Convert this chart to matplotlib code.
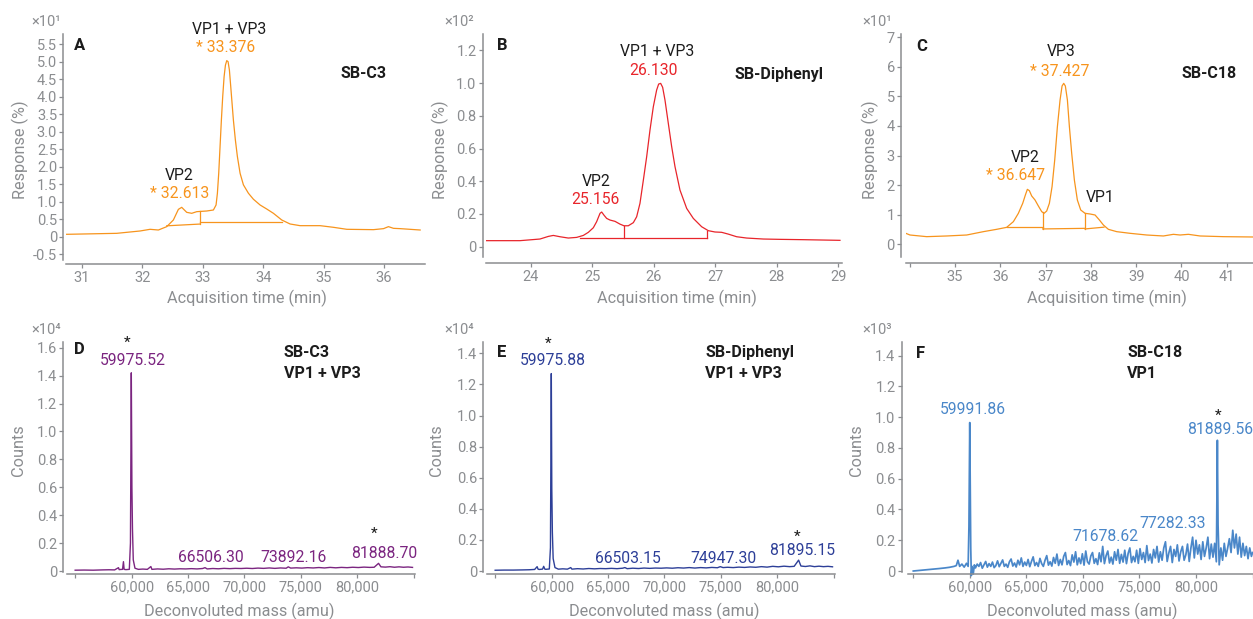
import matplotlib
matplotlib.use("Agg")
import matplotlib.pyplot as plt

W, H = 1253, 619
GREY = "#8b8d90"
INK = "#1c1c1c"
ORANGE = "#f7941d"
RED = "#e8252b"
PURPLE = "#7b2580"
NAVY = "#2d3f98"
SKY = "#4a87c9"

plt.rcParams['font.family'] = ['Roboto', 'DejaVu Sans']

# ---- chromatograms (response, x10^n %) ----
a_time = [30.746, 31.575, 31.962, 32.127, 32.265, 32.403, 32.513, 32.596, 32.651, 32.734,
          32.817, 32.900, 33.065, 33.176, 33.220, 33.242, 33.264, 33.286, 33.308, 33.330,
          33.353, 33.375, 33.397, 33.419, 33.441, 33.463, 33.485, 33.507, 33.540, 33.573,
          33.618, 33.673, 33.756, 33.838, 33.949, 34.059, 34.170, 34.308, 34.446, 34.611,
          34.943, 35.164, 35.385, 35.827, 35.993, 36.075, 36.158, 36.269, 36.600]
a_resp = [0.067, 0.095, 0.162, 0.210, 0.190, 0.286, 0.476, 0.780, 0.838, 0.695,
          0.667, 0.714, 0.733, 0.762, 0.905, 1.238, 1.810, 2.570, 3.330, 4.000,
          4.570, 4.900, 5.030, 5.000, 4.760, 4.290, 3.810, 3.330, 2.760, 2.290,
          1.810, 1.480, 1.240, 1.070, 0.905, 0.790, 0.667, 0.476, 0.362, 0.314,
          0.314, 0.267, 0.210, 0.200, 0.229, 0.286, 0.238, 0.229, 0.190]
a_base_t = [[32.403, 32.955], [32.955, 32.955], [32.955, 34.308]]
a_base_r = [[0.31, 0.36], [0.36, 0.72], [0.42, 0.42]]

b_time = [23.252, 23.821, 24.146, 24.282, 24.363, 24.472, 24.607, 24.743, 24.851, 24.933,
          25.014, 25.068, 25.123, 25.150, 25.187, 25.231, 25.285, 25.367, 25.448, 25.513,
          25.583, 25.665, 25.719, 25.773, 25.828, 25.882, 25.936, 25.990, 26.044, 26.077,
          26.110, 26.142, 26.180, 26.234, 26.289, 26.343, 26.424, 26.533, 26.641, 26.777,
          26.885, 26.993, 27.102, 27.210, 27.346, 27.509, 27.780, 28.051, 28.430, 29.027]
b_resp = [0.037, 0.037, 0.047, 0.063, 0.069, 0.061, 0.053, 0.057, 0.069, 0.088,
          0.116, 0.153, 0.204, 0.212, 0.193, 0.173, 0.163, 0.155, 0.138, 0.128,
          0.128, 0.147, 0.183, 0.265, 0.407, 0.550, 0.713, 0.855, 0.957, 0.994,
          0.998, 0.974, 0.896, 0.754, 0.611, 0.489, 0.346, 0.234, 0.173, 0.122,
          0.098, 0.090, 0.088, 0.077, 0.061, 0.053, 0.047, 0.045, 0.043, 0.039]
b_base_t = [[24.80, 26.86], [25.52, 25.52], [26.86, 26.86]]
b_base_r = [[0.055, 0.055], [0.055, 0.128], [0.055, 0.098]]

c_time = [33.859, 34.006, 34.374, 34.816, 35.258, 35.626, 35.920, 36.141, 36.289, 36.399,
          36.495, 36.554, 36.598, 36.642, 36.694, 36.767, 36.841, 36.915, 36.966, 37.025,
          37.084, 37.143, 37.202, 37.261, 37.320, 37.364, 37.401, 37.437, 37.482, 37.526,
          37.577, 37.636, 37.702, 37.776, 37.872, 37.982, 38.093, 38.189, 38.277, 38.387,
          38.571, 38.866, 39.234, 39.602, 39.823, 39.970, 40.155, 40.412, 40.928, 41.591]
c_resp = [0.405, 0.315, 0.259, 0.282, 0.315, 0.428, 0.507, 0.574, 0.766, 1.047,
          1.385, 1.667, 1.858, 1.813, 1.633, 1.498, 1.295, 1.104, 1.047, 1.126,
          1.385, 1.948, 2.849, 3.975, 4.876, 5.349, 5.439, 5.349, 4.876, 3.975,
          3.074, 2.173, 1.498, 1.160, 1.047, 1.025, 0.991, 0.822, 0.653, 0.507,
          0.428, 0.372, 0.315, 0.282, 0.338, 0.315, 0.338, 0.282, 0.259, 0.248]
c_base_t = [[36.142, 36.937], [36.937, 36.937], [36.937, 37.871], [37.871, 37.871], [37.871, 38.29]]
c_base_r = [[0.59, 0.59], [0.52, 1.08], [0.52, 0.54], [0.52, 1.06], [0.52, 0.58]]

# ---- deconvoluted spectra (counts, x10^n) ----
d_mass = [55000, 55800, 56600, 57400, 58000, 58500, 58840, 58900, 59000, 59200,
          59280, 59340, 59500, 59800, 59900, 59976, 60030, 60080, 60150, 60300,
          60600, 61000, 61400, 61710, 61800, 62300, 62800, 63300, 63800, 64300,
          64800, 65300, 65800, 66300, 66510, 66700, 67200, 67700, 68200, 68700,
          69200, 69700, 70200, 70700, 71200, 71700, 72200, 72700, 73200, 73700,
          73890, 74100, 74600, 75100, 75600, 76100, 76600, 77100, 77600, 78100,
          78600, 79100, 79600, 80100, 80600, 81100, 81500, 81889, 82100, 82500,
          82900, 83300, 83700, 84100, 84500, 84900]
d_counts = [0.006, 0.007, 0.006, 0.008, 0.009, 0.008, 0.024, 0.010, 0.011, 0.012,
            0.067, 0.012, 0.010, 0.012, 0.200, 1.420, 0.600, 0.300, 0.080, 0.020,
            0.012, 0.014, 0.012, 0.032, 0.012, 0.015, 0.013, 0.016, 0.014, 0.016,
            0.015, 0.017, 0.015, 0.018, 0.024, 0.015, 0.018, 0.016, 0.019, 0.017,
            0.019, 0.018, 0.020, 0.018, 0.021, 0.019, 0.022, 0.019, 0.022, 0.020,
            0.030, 0.021, 0.023, 0.021, 0.024, 0.022, 0.025, 0.022, 0.026, 0.023,
            0.026, 0.024, 0.027, 0.025, 0.028, 0.026, 0.027, 0.055, 0.030, 0.028,
            0.031, 0.027, 0.030, 0.027, 0.029, 0.026]

e_mass = [55000, 55800, 56600, 57400, 58000, 58500, 58720, 58800, 58900, 59200,
          59300, 59400, 59500, 59800, 59900, 59976, 60020, 60070, 60140, 60300,
          60600, 61000, 61400, 61700, 61800, 62300, 62800, 63300, 63800, 64300,
          64800, 65300, 65800, 66300, 66500, 66700, 67200, 67700, 68200, 68700,
          69200, 69700, 70200, 70700, 71200, 71700, 72200, 72700, 73200, 73700,
          74200, 74700, 74950, 75200, 75600, 76100, 76600, 77100, 77600, 78100,
          78600, 79100, 79600, 80100, 80600, 81100, 81500, 81895, 82100, 82500,
          82900, 83300, 83700, 84100, 84500, 84900]
e_counts = [0.005, 0.006, 0.006, 0.007, 0.008, 0.010, 0.028, 0.012, 0.010, 0.012,
            0.030, 0.012, 0.011, 0.013, 0.150, 1.270, 0.530, 0.250, 0.080, 0.022,
            0.012, 0.014, 0.012, 0.022, 0.012, 0.015, 0.013, 0.016, 0.014, 0.016,
            0.015, 0.017, 0.015, 0.018, 0.022, 0.015, 0.018, 0.016, 0.019, 0.017,
            0.019, 0.018, 0.020, 0.018, 0.021, 0.019, 0.022, 0.019, 0.022, 0.020,
            0.023, 0.021, 0.028, 0.022, 0.024, 0.022, 0.025, 0.023, 0.026, 0.024,
            0.028, 0.025, 0.030, 0.027, 0.031, 0.028, 0.030, 0.070, 0.032, 0.029,
            0.033, 0.028, 0.031, 0.028, 0.030, 0.027]

f_mass = [55000, 55600, 56200, 56800, 57300, 57800, 58200, 58600, 58800, 58950,
          59100, 59300, 59500, 59700, 59850, 59920, 59992, 60040, 60080, 60130,
          60200, 60300, 60400,
          60500, 60650, 60800, 60950, 61100, 61250, 61400, 61550, 61700, 61850,
          62000, 62150, 62300, 62450, 62600, 62750, 62900, 63050, 63200, 63350,
          63500, 63650, 63800, 63950, 64100, 64250, 64400, 64550, 64700, 64850,
          65000, 65150, 65300, 65450, 65600, 65750, 65900, 66050, 66200, 66350,
          66500, 66650, 66800, 66950, 67100, 67250, 67400, 67550, 67700, 67850,
          68000, 68150, 68300, 68450, 68600, 68750, 68900, 69050, 69200, 69350,
          69500, 69650, 69800, 69950, 70100, 70250, 70400, 70550, 70700, 70850,
          71000, 71150, 71300, 71450, 71600, 71750, 71900, 72050, 72200, 72350,
          72500, 72650, 72800, 72950, 73100, 73250, 73400, 73550, 73700, 73850,
          74000, 74150, 74300, 74450, 74600, 74750, 74900, 75050, 75200, 75350,
          75500, 75650, 75800, 75950, 76100, 76250, 76400, 76550, 76700, 76850,
          77000, 77150, 77300, 77450, 77600, 77750, 77900, 78050, 78200, 78350,
          78500, 78650, 78800, 78950, 79100, 79250, 79400, 79550, 79700, 79850,
          80000, 80150, 80300, 80450, 80600, 80750, 80900, 81050, 81200, 81350,
          81500, 81650, 81800, 81890, 81950, 82050, 82200, 82350, 82500, 82650,
          82800, 82950, 83100, 83250, 83400, 83550, 83700, 83850, 84000, 84150,
          84300, 84450, 84600, 84750, 84900, 85000]
f_counts = [0.000, 0.004, 0.008, 0.012, 0.016, 0.020, 0.024, 0.030, 0.035, 0.070,
            0.030, 0.045, 0.025, 0.050, 0.030, 0.290, 0.965, 0.480, 0.150, -0.030,
            0.030, -0.020, 0.040,
            0.020, 0.045, 0.030, 0.055, 0.018, 0.040, 0.062, 0.025, 0.048, 0.030,
            0.058, 0.022, 0.035, 0.066, 0.028, 0.050, 0.072, 0.030, 0.045, 0.024,
            0.060, 0.078, 0.032, 0.052, 0.026, 0.070, 0.040, 0.085, 0.030, 0.058,
            0.036, 0.075, 0.028, 0.062, 0.092, 0.035, 0.055, 0.030, 0.082, 0.048,
            0.030, 0.070, 0.100, 0.038, 0.060, 0.032, 0.088, 0.050, 0.110, 0.036,
            0.075, 0.040, 0.095, 0.120, 0.042, 0.068, 0.035, 0.105, 0.058, 0.125,
            0.040, 0.085, 0.048, 0.112, 0.038, 0.130, 0.060, 0.045, 0.098, 0.120,
            0.050, 0.080, 0.042, 0.118, 0.060, 0.160, 0.048, 0.100, 0.130, 0.052,
            0.090, 0.045, 0.125, 0.070, 0.140, 0.050, 0.108, 0.058, 0.135, 0.048,
            0.115, 0.150, 0.055, 0.095, 0.060, 0.135, 0.050, 0.145, 0.075, 0.120,
            0.055, 0.165, 0.068, 0.110, 0.052, 0.140, 0.085, 0.160, 0.058, 0.125,
            0.070, 0.150, 0.190, 0.062, 0.118, 0.160, 0.055, 0.140, 0.095, 0.170,
            0.065, 0.125, 0.160, 0.070, 0.105, 0.175, 0.062, 0.150, 0.220, 0.085,
            0.200, 0.110, 0.170, 0.075, 0.190, 0.095, 0.150, 0.220, 0.080, 0.175,
            0.090, 0.180, 0.060, 0.850, 0.300, 0.040, 0.150, 0.070, 0.180, 0.095,
            0.150, 0.210, 0.120, 0.265, 0.150, 0.240, 0.110, 0.220, 0.090, 0.180,
            0.100, 0.160, 0.080, 0.150, 0.095, 0.120]

mass_ticks = [55000, 60000, 65000, 70000, 75000, 80000, 85000]
mass_labels = ["", "60,000", "65,000", "70,000", "75,000", "80,000", ""]

fig = plt.figure(figsize=(W / 100, H / 100), dpi=100)


def px_axes(l, t, r, b):
    return fig.add_axes([l / W, 1 - b / H, (r - l) / W, (b - t) / H])


def put(x, y, s, color=INK, size=11.3, weight="normal", ha="center", rot=0):
    fig.text(x / W, 1 - y / H, s, color=color, fontsize=size, fontweight=weight,
             ha=ha, va="center", rotation=rot)


def fmt(v):
    return "0" if abs(v) < 1e-9 else "%.1f" % v


def style(ax, xlim, ylim, xt, xl, yt, yl, left_out, bottom_out):
    ax.set_xlim(*xlim)
    ax.set_ylim(*ylim)
    ax.set_xticks(xt)
    ax.set_xticklabels(xl)
    ax.set_yticks(yt)
    ax.set_yticklabels(yl)
    for s in ["top", "right"]:
        ax.spines[s].set_visible(False)
    for s in ["left", "bottom"]:
        ax.spines[s].set_color(GREY)
        ax.spines[s].set_linewidth(1.1)
    ax.spines["left"].set_position(("outward", left_out * 0.72))
    ax.spines["bottom"].set_position(("outward", bottom_out * 0.72))
    ax.tick_params(colors=GREY, labelcolor=GREY, labelsize=10.5, length=3, width=0.9, pad=1.5)
    ax.patch.set_alpha(0)


# ---- A ----
ax = px_axes(65.7, 34.3, 425, 260)
ax.plot(a_time, a_resp, color=ORANGE, lw=0.9)
for t, r in zip(a_base_t, a_base_r):
    ax.plot(t, r, color=ORANGE, lw=0.9)
ay = [-0.5, 0, 0.5, 1, 1.5, 2, 2.5, 3, 3.5, 4, 4.5, 5, 5.5]
style(ax, (30.73, 36.68), (-0.667, 5.782), [31, 32, 33, 34, 35, 36],
      ["31", "32", "33", "34", "35", "36"], ay, [fmt(v) for v in ay], 2.4, 4.3)

# ---- B ----
ax = px_axes(485.7, 34.3, 842, 256.7)
ax.plot(b_time, b_resp, color=RED, lw=0.9)
for t, r in zip(b_base_t, b_base_r):
    ax.plot(t, r, color=RED, lw=0.9)
by = [0, 0.2, 0.4, 0.6, 0.8, 1.0, 1.2]
style(ax, (23.263, 29.06), (-0.061, 1.298), [24, 25, 26, 27, 28, 29],
      ["24", "25", "26", "27", "28", "29"], by, [fmt(v) for v in by], 3.0, 6.6)

# ---- C ----
ax = px_axes(905.7, 34.3, 1253, 256.7)
ax.plot(c_time, c_resp, color=ORANGE, lw=0.9)
for t, r in zip(c_base_t, c_base_r):
    ax.plot(t, r, color=ORANGE, lw=0.9)
cy = [0, 1, 2, 3, 4, 5, 6, 7]
style(ax, (33.911, 41.581), (-0.418, 7.096), [34, 35, 36, 37, 38, 39, 40, 41],
      ["", "35", "36", "37", "38", "39", "40", "41"], cy, [str(v) for v in cy], 4.7, 6.6)

# ---- D ----
ax = px_axes(66.7, 341.7, 415, 572)
ax.plot(d_mass, d_counts, color=PURPLE, lw=1.0)
dy = [0, 0.2, 0.4, 0.6, 0.8, 1.0, 1.2, 1.4, 1.6]
style(ax, (54250, 85120), (-0.007, 1.643), mass_ticks, mass_labels,
      dy, [fmt(v) for v in dy], 3.4, 2.3)

# ---- E ----
ax = px_axes(486.7, 341.7, 835, 572)
ax.plot(e_mass, e_counts, color=NAVY, lw=1.0)
ey = [0, 0.2, 0.4, 0.6, 0.8, 1.0, 1.2, 1.4]
style(ax, (54250, 85120), (-0.0064, 1.475), mass_ticks, mass_labels,
      ey, [fmt(v) for v in ey], 3.4, 2.3)

# ---- F ----
ax = px_axes(908.3, 341.7, 1253, 572)
ax.plot(f_mass, f_counts, color=SKY, lw=1.25, clip_on=False)
style(ax, (54558, 85040), (-0.0065, 1.491), mass_ticks, mass_labels,
      ey, [fmt(v) for v in ey], 6.6, 2.3)

# ---- axis titles ----
for x in (20, 440, 870):
    put(x, 150, "Response (%)", color=GREY, size=11.7, rot=90)
for x in (18, 437, 856):
    put(x, 450, "Counts", color=GREY, size=11.7, rot=90)
put(247, 298, "Acquisition time (min)", color=GREY, size=11.7)
put(676.7, 298, "Acquisition time (min)", color=GREY, size=11.7)
put(1106.7, 298, "Acquisition time (min)", color=GREY, size=11.7)
put(239, 611, "Deconvoluted mass (amu)", color=GREY, size=11.7)
put(664, 611, "Deconvoluted mass (amu)", color=GREY, size=11.7)
put(1082.5, 611, "Deconvoluted mass (amu)", color=GREY, size=11.7)

# exponent labels
put(31, 21.5, "×10¹", color=GREY, size=10.5, ha="left")
put(444, 21.5, "×10²", color=GREY, size=10.5, ha="left")
put(862, 21.5, "×10¹", color=GREY, size=10.5, ha="left")
put(31, 330.5, "×10⁴", color=GREY, size=10.5, ha="left")
put(444, 330.5, "×10⁴", color=GREY, size=10.5, ha="left")
put(862, 330.5, "×10³", color=GREY, size=10.5, ha="left")

# panel letters and sample names
for x, y, s in [(74, 46, "A"), (497.3, 45.7, "B"), (916, 46.7, "C"),
                (74, 350, "D"), (497.3, 352, "E"), (916, 353.3, "F")]:
    put(x, y, s, size=12, weight="bold", ha="left")
put(363.8, 74, "SB-C3", size=11.5, weight="bold")
put(778.8, 74, "SB-Diphenyl", size=11.5, weight="bold")
put(1208.8, 74, "SB-C18", size=11.5, weight="bold")
for x, s1, s2 in [(284, "SB-C3", "VP1 + VP3"), (705, "SB-Diphenyl", "VP1 + VP3"),
                  (1127.3, "SB-C18", "VP1")]:
    put(x, 352.7, s1, size=11.5, weight="bold", ha="left")
    put(x, 373.3, s2, size=11.5, weight="bold", ha="left")

# peak labels, chromatograms
put(228.8, 29.3, "VP1 + VP3")
put(226, 47.7, "* 33.376", color=ORANGE)
put(179.2, 175.7, "VP2")
put(179.7, 194, "* 32.613", color=ORANGE)
put(657.5, 51.7, "VP1 + VP3")
put(653.8, 70.7, "26.130", color=RED)
put(596.5, 181.7, "VP2")
put(595.3, 200, "25.156", color=RED)
put(1060.7, 51, "VP3")
put(1060, 71, "* 37.427", color=ORANGE)
put(1025.5, 157.3, "VP2")
put(1015.3, 176, "* 36.647", color=ORANGE)
put(1100.5, 197.3, "VP1")

# peak labels, spectra
put(127, 342.5, "*", size=11)
put(132.5, 360.7, "59975.52", color=PURPLE)
put(210.7, 557.3, "66506.30", color=PURPLE)
put(293.8, 557.3, "73892.16", color=PURPLE)
put(374, 534, "*", size=11)
put(384.3, 553.3, "81888.70", color=PURPLE)
put(547.7, 344, "*", size=11)
put(552.5, 360.7, "59975.88", color=NAVY)
put(628.2, 558.3, "66503.15", color=NAVY)
put(723.8, 558.3, "74947.30", color=NAVY)
put(796.7, 536.5, "*", size=11)
put(802.5, 550.7, "81895.15", color=NAVY)
put(972.7, 410, "59991.86", color=SKY)
put(1217.7, 415.5, "*", size=11)
put(1220, 429.5, "81889.56", color=SKY)
put(1105.3, 536.7, "71678.62", color=SKY)
put(1172.3, 524, "77282.33", color=SKY)

fig.savefig("out.png", dpi=100)
